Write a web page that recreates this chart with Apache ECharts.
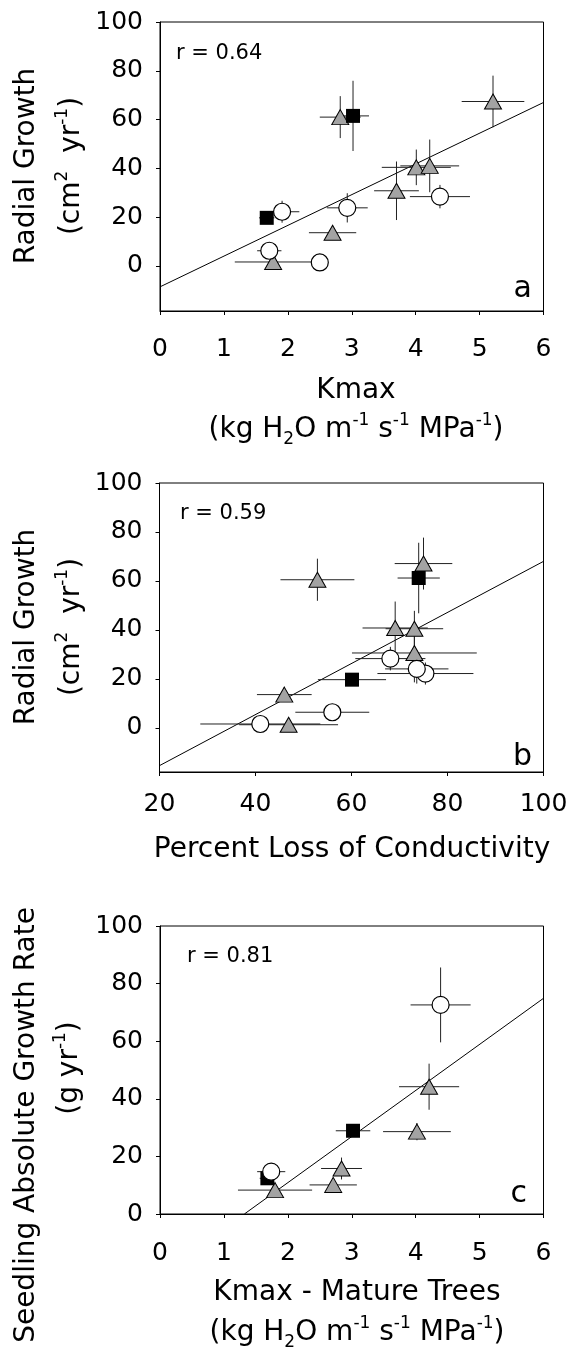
<!DOCTYPE html>
<html>
<head>
<meta charset="utf-8">
<script src="https://cdn.jsdelivr.net/npm/echarts@6/dist/echarts.min.js"></script>
<style>
html,body{margin:0;padding:0;background:#fff;}
#chart{width:571px;height:1350px;}
</style>
</head>
<body>
<div id="chart"></div>
<script>
// ---------- data: [x, y, xError, yError] ----------
// Panel a: Kmax vs radial growth
const aTriangles = [[2.82,61.0,0.32,8.6],[1.77,1.6,0.60,0],[2.70,13.6,0.37,3],[3.70,30.8,0.35,12],[4.01,40.4,0.54,7.3],[4.22,41.0,0.46,10.8],[5.21,67.4,0.49,10.6]];
const aCircles   = [[1.91,22.2,0.27,4.5],[1.71,6.2,0.19,3],[2.50,1.4,0.05,0],[2.93,23.8,0.32,6],[4.38,28.4,0.47,4.8]];
const aSquares   = [[3.02,61.5,0.25,14.4],[1.67,19.7,0.12,0]];
const aFit       = [[0,-8.6],[6,67.0]];
const aR = 'r = 0.64';

// Panel b: percent loss of conductivity vs radial growth
const bTriangles = [[52.9,60.5,7.7,8.6],[75.0,67.1,6.0,10.6],[69.1,40.8,6.8,10.8],[73.1,40.5,6.0,7.3],[73.1,30.6,13.0,12],[46.0,13.6,5.7,3],[46.9,1.3,10.3,0]];
const bCircles   = [[68.1,28.3,7.3,4.8],[75.4,22.2,10.0,4.5],[73.6,24.1,6.6,6],[56.0,6.4,7.7,3],[41.0,1.6,12.5,0]];
const bSquares   = [[74.0,61.2,4.4,14.4],[60.1,19.7,7.1,0]];
const bFit       = [[20,-15.4],[100,68.0]];
const bR = 'r = 0.59';

// Panel c: Kmax of mature trees vs seedling absolute growth rate
const cTriangles = [[4.21,44.2,0.47,8],[4.02,28.6,0.53,3],[2.84,15.8,0.32,3.8],[2.71,10.1,0.37,0],[1.80,8.3,0.58,0]];
const cCircles   = [[4.39,72.6,0.47,13],[1.74,14.7,0.22,0]];
const cSquares   = [[3.02,28.9,0.27,1.5],[1.68,12.4,0.12,0]];
const cFit       = [[1.32,0],[6,74.9]];
const cR = 'r = 0.81';

// ---------- tick labels ----------
const yTicks = [0,20,40,60,80,100];
const kmaxTicks = [0,6,1];      // min, max, step
const plcTicks = [20,100,20];   // min, max, step

// ---------- styling ----------
const FONT = 'DejaVu Sans';
const BLACK = '#000';
const TICK_FS = 25;

function errRender(params, api) {
  const x = api.value(0), y = api.value(1), xe = api.value(2), ye = api.value(3);
  const c = api.coord([x, y]);
  const l = api.coord([x - xe, y]), r = api.coord([x + xe, y]);
  const t = api.coord([x, y + ye]), b = api.coord([x, y - ye]);
  const st = {stroke: '#222', lineWidth: 1};
  const children = [];
  if (xe > 0) children.push({type: 'line', shape: {x1: l[0], y1: c[1], x2: r[0], y2: c[1]}, style: st});
  if (ye > 0) children.push({type: 'line', shape: {x1: c[0], y1: t[1], x2: c[0], y2: b[1]}, style: st});
  return {type: 'group', children: children};
}

function xAxis(idx, t, margin) {
  return {
    type: 'value', gridIndex: idx, min: t[0], max: t[1], interval: t[2],
    axisLine: {show: true, onZero: false, lineStyle: {color: BLACK, width: 1}},
    axisTick: {show: true, inside: false, length: 4, lineStyle: {color: BLACK}},
    axisLabel: {color: BLACK, fontFamily: FONT, fontSize: TICK_FS, margin: margin},
    splitLine: {show: false}
  };
}
function yAxis(idx, min) {
  return {
    type: 'value', gridIndex: idx, min: min, max: 100,
    axisLine: {show: true, onZero: false, lineStyle: {color: BLACK, width: 1}},
    axisTick: {show: true, inside: false, length: 4, lineStyle: {color: BLACK}, customValues: yTicks},
    axisLabel: {color: BLACK, fontFamily: FONT, fontSize: TICK_FS, margin: 17, customValues: yTicks},
    splitLine: {show: false}
  };
}

function panelSeries(idx, tri, cir, sq, fit) {
  return [
    {type: 'line', xAxisIndex: idx, yAxisIndex: idx, data: fit, showSymbol: false, symbol: 'none',
     lineStyle: {color: BLACK, width: 1}, silent: true, z: 1},
    {type: 'custom', xAxisIndex: idx, yAxisIndex: idx, renderItem: errRender,
     data: tri.concat(sq, cir), encode: {x: 0, y: 1}, silent: true, z: 2},
    {type: 'scatter', xAxisIndex: idx, yAxisIndex: idx, data: tri, symbol: 'triangle', symbolSize: [17, 15],
     itemStyle: {color: '#a3a3a3', borderColor: BLACK, borderWidth: 1, opacity: 1}, z: 3},
    {type: 'scatter', xAxisIndex: idx, yAxisIndex: idx, data: sq, symbol: 'rect', symbolSize: 14,
     itemStyle: {color: BLACK, borderColor: BLACK, borderWidth: 0, opacity: 1}, z: 4},
    {type: 'scatter', xAxisIndex: idx, yAxisIndex: idx, data: cir, symbol: 'circle', symbolSize: 17,
     itemStyle: {color: '#fff', borderColor: BLACK, borderWidth: 1.2, opacity: 1}, z: 5}
  ];
}

const sup = {fontSize: 17, lineHeight: 17, verticalAlign: 'top', fontFamily: FONT, fill: BLACK};
const sub = {fontSize: 17, lineHeight: 17, verticalAlign: 'bottom', fontFamily: FONT, fill: BLACK};
function txt(x, y, text, opts) {
  const o = opts || {};
  return {
    type: 'text', x: x, y: y, rotation: o.rot || 0, z: 100,
    style: {
      text: text, fill: BLACK, fontFamily: FONT, fontSize: o.size || 28,
      align: o.align || 'center', verticalAlign: o.va || 'middle',
      lineHeight: o.lh || 36, rich: {s: sup, b: sub}
    }
  };
}
const R90 = Math.PI / 2;
const unitsK = '(kg H{b|2}O m{s|-1} s{s|-1} MPa{s|-1})';

const grids = [
  {left: 160, top: 22, width: 383.5, height: 289},
  {left: 159.5, top: 483, width: 384, height: 289},
  {left: 160, top: 926, width: 383.5, height: 288}
].map(g => Object.assign({show: true, borderColor: BLACK, borderWidth: 1, backgroundColor: 'transparent'}, g));

const option = {
  animation: false,
  backgroundColor: '#fff',
  grid: grids,
  xAxis: [xAxis(0, kmaxTicks, 26), xAxis(1, plcTicks, 20), xAxis(2, kmaxTicks, 27)],
  yAxis: [yAxis(0, -18.5), yAxis(1, -18), yAxis(2, 0)],
  series: [].concat(
    panelSeries(0, aTriangles, aCircles, aSquares, aFit),
    panelSeries(1, bTriangles, bCircles, bSquares, bFit),
    panelSeries(2, cTriangles, cCircles, cSquares, cFit)
  ),
  graphic: [
    // panel a
    txt(176, 54, aR, {size: 21, align: 'left'}),
    txt(532, 304, 'a', {size: 30, align: 'right', va: 'bottom', lh: 30}),
    txt(27, 166, 'Radial Growth', {rot: R90}),
    txt(72, 166, '(cm{s|2}  yr{s|-1})', {rot: R90}),
    txt(356, 391, 'Kmax'),
    txt(356, 430, unitsK),
    // panel b
    txt(180, 514, bR, {size: 21, align: 'left'}),
    txt(532, 772, 'b', {size: 30, align: 'right', va: 'bottom', lh: 30}),
    txt(27, 627, 'Radial Growth', {rot: R90}),
    txt(72, 627, '(cm{s|2}  yr{s|-1})', {rot: R90}),
    txt(352, 850, 'Percent Loss of Conductivity'),
    // panel c
    txt(187, 957, cR, {size: 21, align: 'left'}),
    txt(527, 1209, 'c', {size: 30, align: 'right', va: 'bottom', lh: 30}),
    txt(27, 1125, 'Seedling Absolute Growth Rate', {rot: R90}),
    txt(70, 1068, '(g yr{s|-1})', {rot: R90}),
    txt(357, 1293, 'Kmax - Mature Trees'),
    txt(357, 1333, unitsK)
  ]
};

const chart = echarts.init(document.getElementById('chart'), null, {renderer: 'canvas'});
chart.setOption(option);
</script>
</body>
</html>
